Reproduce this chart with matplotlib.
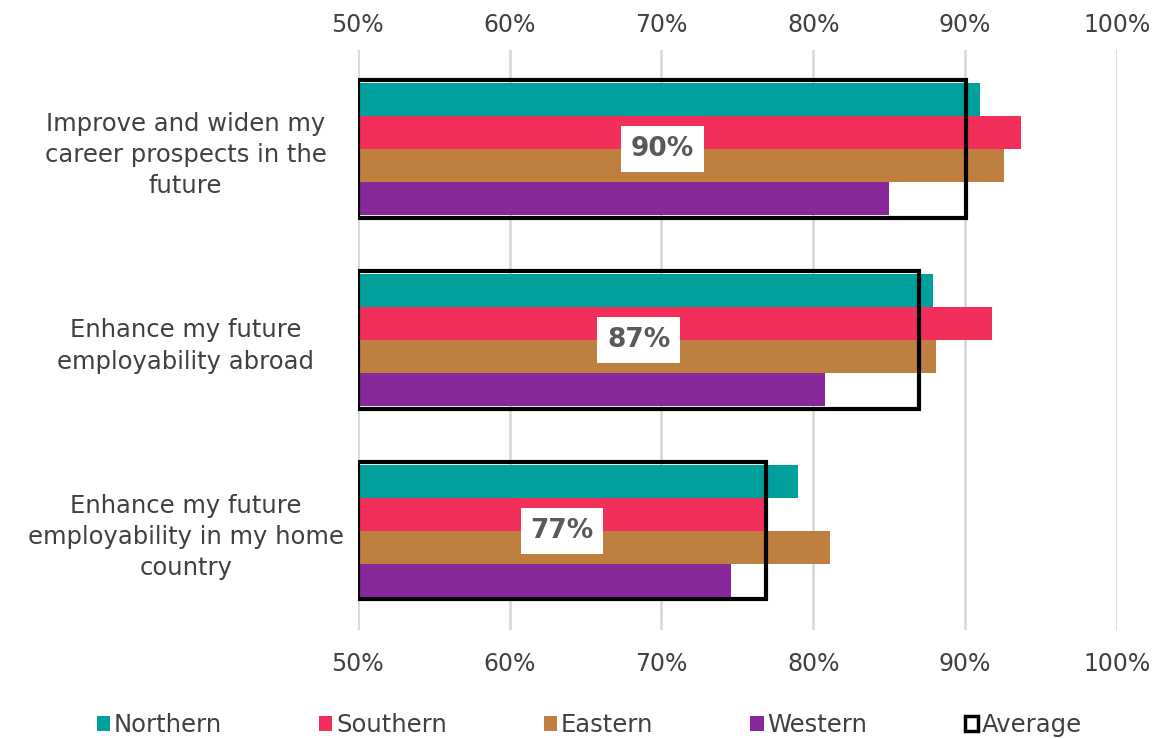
import numpy as np
import matplotlib
matplotlib.use("Agg")
import matplotlib.pyplot as plt
from matplotlib.patches import Patch

categories = ["Improve and widen my\ncareer prospects in the\nfuture",
              "Enhance my future\nemployability abroad",
              "Enhance my future\nemployability in my home\ncountry"]
regions = ["Northern", "Southern", "Eastern", "Western"]
northern = [91.0, 87.9, 79.0]
southern = [93.7, 91.8, 76.8]
eastern = [92.6, 88.1, 81.1]
western = [85.0, 80.8, 74.6]
average = [90.1, 87.0, 76.9]
avg_labels = ["90%", "87%", "77%"]
xticks = [50, 60, 70, 80, 90, 100]

colors = ["#00A19D", "#F22E5A", "#BF7F3F", "#88289A"]
txt = "#404040"

fig = plt.figure(figsize=(11.62, 7.39), dpi=100)
ax = fig.add_axes([0.308, 0.1475, 0.653, 0.785])

y = np.arange(len(categories))
h = 0.173
base = 50
series = [northern, southern, eastern, western]
for i, (vals, c) in enumerate(zip(series, colors)):
    off = (i - 1.5) * h
    ax.barh(y + off, np.array(vals) - base, left=base, height=h, color=c, zorder=2)

# average as outlined box
ax.barh(y, np.array(average) - base, left=base, height=0.72, facecolor="none",
        edgecolor="black", linewidth=3, zorder=3)
for yi, a, lab in zip(y, average, avg_labels):
    ax.text((base + a) / 2, yi, lab, ha="center", va="center", fontsize=19,
            fontweight="bold", color="#595959", zorder=4,
            bbox=dict(facecolor="white", edgecolor="none", pad=7))

ax.set_xlim(50, 100)
ax.set_ylim(2.52, -0.52)
ax.set_xticks(xticks)
ax.set_xticklabels([f"{t}%" for t in xticks])
ax.tick_params(axis="x", length=0, labelsize=17, labelcolor=txt, pad=16)

top = ax.secondary_xaxis("top")
top.set_xticks(xticks)
top.set_xticklabels([f"{t}%" for t in xticks])
top.tick_params(length=0, labelsize=17, labelcolor=txt, pad=9)
top.spines["top"].set_visible(False)

ax.set_yticks(y)
ax.set_yticklabels(categories, fontsize=17.5, color=txt, ha="center",
                   linespacing=1.38)
ax.tick_params(axis="y", length=0, pad=124)
ax.grid(axis="x", color="#D9D9D9", linewidth=2, zorder=0)
ax.set_axisbelow(True)
for s in ax.spines.values():
    s.set_visible(False)

handles = [Patch(facecolor=c, edgecolor="none") for c in colors]
handles.append(Patch(facecolor="white", edgecolor="black", linewidth=2.5))
fig.legend(handles, regions + ["Average"], loc="lower center", ncol=5,
           bbox_to_anchor=(0.507, -0.027), frameon=False, fontsize=17.5,
           handlelength=0.55, handleheight=0.6, handletextpad=0.15,
           columnspacing=4.0, labelcolor=txt)

fig.savefig("out.png", dpi=100)
